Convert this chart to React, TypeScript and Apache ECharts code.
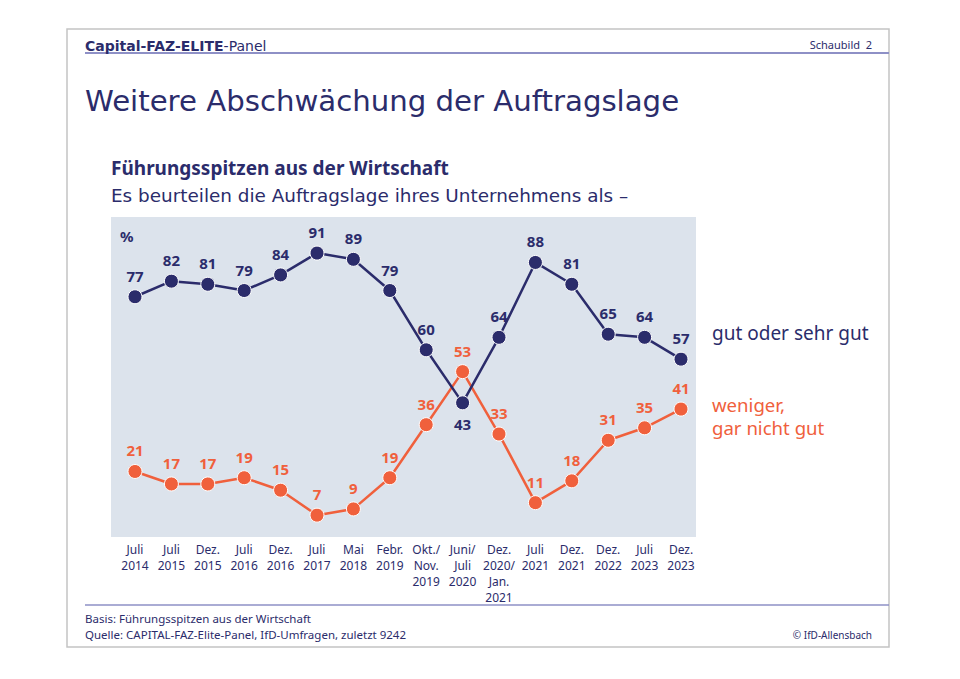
import React, { useEffect, useRef } from "react";
import * as echarts from "echarts";

const categories = [
  "Juli\n2014", "Juli\n2015", "Dez.\n2015", "Juli\n2016", "Dez.\n2016", "Juli\n2017",
  "Mai\n2018", "Febr.\n2019", "Okt./\nNov.\n2019", "Juni/\nJuli\n2020", "Dez.\n2020/\nJan.\n2021",
  "Juli\n2021", "Dez.\n2021", "Dez.\n2022", "Juli\n2023", "Dez.\n2023",
];
const gutValues = [77, 82, 81, 79, 84, 91, 89, 79, 60, 43, 64, 88, 81, 65, 64, 57];
const wenigerValues = [21, 17, 17, 19, 15, 7, 9, 19, 36, 53, 33, 11, 18, 31, 35, 41];
const gutBelowIndex = [9];

const NAVY = "#2b2c6b";
const ORANGE = "#f0603c";
const FONT = "'Noto Sans', sans-serif";
const WIDE = "'DejaVu Sans', sans-serif";

export default function App() {
  const ref = useRef<HTMLDivElement>(null);
  useEffect(() => {
    if (!ref.current) return;
    const chart = echarts.init(ref.current, null, { renderer: "svg" });
    const gutData = gutValues.map((v, i) => ({
      value: v,
      label: gutBelowIndex.includes(i) ? { position: "bottom" } : undefined,
    }));
    chart.setOption({
      animation: false,
      textStyle: { fontFamily: FONT },
      grid: { left: 135, right: 279, top: 225, bottom: 142, containLabel: false },
      xAxis: {
        type: "category",
        data: categories,
        boundaryGap: false,
        axisLine: { show: false },
        axisTick: { show: false },
        axisLabel: {
          color: NAVY,
          fontSize: 12,
          lineHeight: 16,
          margin: 4,
          interval: 0,
          verticalAlign: "top",
          fontFamily: FONT,
        },
      },
      yAxis: {
        type: "value",
        min: 0,
        max: 100,
        show: false,
        splitLine: { show: false },
      },
      graphic: [
        { type: "rect", z: -10, shape: { x: 111, y: 217, width: 585, height: 320 }, style: { fill: "#dce3ec" } },
        { type: "rect", z: -20, shape: { x: 67, y: 29, width: 822, height: 618 }, style: { fill: "#fff", stroke: "#c4c4c4", lineWidth: 1.5 } },
        { type: "line", shape: { x1: 85, y1: 53, x2: 889, y2: 53 }, style: { stroke: "#8e90c6", lineWidth: 2 } },
        { type: "line", shape: { x1: 85, y1: 605, x2: 889, y2: 605 }, style: { stroke: "#8e90c6", lineWidth: 1.5 } },
        {
          type: "text", x: 85, y: 46,
          style: {
            text: "{b|Capital-FAZ-ELITE}{n|-Panel}",
            verticalAlign: "middle",
            rich: {
              b: { fontFamily: WIDE, fontSize: 14, fontWeight: "bold", fill: NAVY },
              n: { fontFamily: WIDE, fontSize: 14, fill: NAVY },
            },
          },
        },
        { type: "text", x: 872, y: 44, style: { text: "Schaubild  2", align: "right", verticalAlign: "middle", fontFamily: FONT, fontSize: 11, fill: NAVY } },
        { type: "text", x: 85, y: 101, style: { text: "Weitere Abschwächung der Auftragslage", verticalAlign: "middle", fontFamily: WIDE, fontSize: 29.2, fill: NAVY } },
        { type: "text", x: 111, y: 168, style: { text: "Führungsspitzen aus der Wirtschaft", verticalAlign: "middle", fontFamily: FONT, fontSize: 19, fontWeight: "bold", fill: NAVY } },
        { type: "text", x: 111, y: 195, style: { text: "Es beurteilen die Auftragslage ihres Unternehmens als –", verticalAlign: "middle", fontFamily: WIDE, fontSize: 18.4, fill: NAVY } },
        { type: "text", x: 120, y: 236, style: { text: "%", verticalAlign: "middle", fontFamily: FONT, fontSize: 15, fontWeight: "bold", fill: NAVY } },
        { type: "text", x: 712, y: 333, style: { text: "gut oder sehr gut", verticalAlign: "middle", fontFamily: FONT, fontSize: 19, fill: NAVY } },
        { type: "text", x: 712, y: 404, style: { text: "weniger,", verticalAlign: "middle", lineHeight: 18, fontFamily: FONT, fontSize: 18.6, fill: ORANGE } },
        { type: "text", x: 712, y: 427, style: { text: "gar nicht gut", verticalAlign: "middle", lineHeight: 18, fontFamily: FONT, fontSize: 18.6, fill: ORANGE } },
        { type: "text", x: 85, y: 618, style: { text: "Basis: Führungsspitzen aus der Wirtschaft", verticalAlign: "middle", fontFamily: FONT, fontSize: 11.5, fill: NAVY } },
        { type: "text", x: 85, y: 634, style: { text: "Quelle: CAPITAL-FAZ-Elite-Panel, IfD-Umfragen, zuletzt 9242", verticalAlign: "middle", fontFamily: FONT, fontSize: 11.5, fill: NAVY } },
        { type: "text", x: 872, y: 635, style: { text: "© IfD-Allensbach", align: "right", verticalAlign: "middle", fontFamily: FONT, fontSize: 10, fill: NAVY } },
      ],
      series: [
        {
          name: "gut oder sehr gut",
          type: "line",
          data: gutData,
          symbol: "circle",
          symbolSize: 14,
          lineStyle: { color: NAVY, width: 2.5 },
          itemStyle: { color: NAVY, borderColor: "#ffffff", borderWidth: 1 },
          label: { show: true, position: "top", distance: 6, color: NAVY, fontSize: 15, fontWeight: "bold", fontFamily: FONT },
          z: 3,
        },
        {
          name: "weniger, gar nicht gut",
          type: "line",
          data: wenigerValues,
          symbol: "circle",
          symbolSize: 14,
          lineStyle: { color: ORANGE, width: 2.5 },
          itemStyle: { color: ORANGE, borderColor: "#ffffff", borderWidth: 1 },
          label: { show: true, position: "top", distance: 6, color: ORANGE, fontSize: 15, fontWeight: "bold", fontFamily: FONT },
          z: 2,
        },
      ],
    });
    return () => chart.dispose();
  }, []);
  return <div ref={ref} style={{ width: 960, height: 679, position: "absolute", left: 0, top: 0 }} />;
}
